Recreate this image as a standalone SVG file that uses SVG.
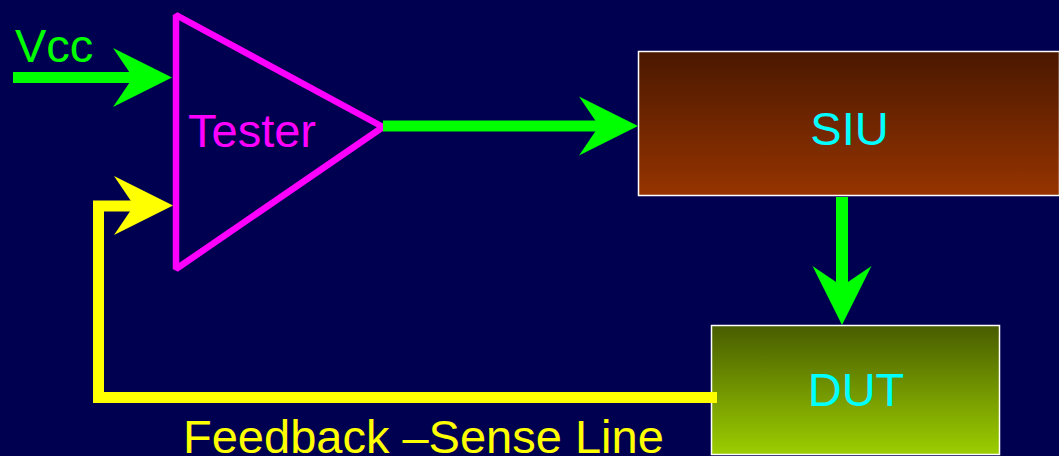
<svg xmlns="http://www.w3.org/2000/svg" xmlns:xlink="http://www.w3.org/1999/xlink" width="1059" height="456" viewBox="0 0 1059 456">
  <style>
    text { font-family: "Liberation Sans", Arial, sans-serif; font-size: 47px; }
    .box { stroke: #FFFFFF; stroke-width: 1.5; }
    .lbl { fill: #00FFFF; text-anchor: middle; }
    .g { stroke: #00FF00; fill: none; }
    .y { stroke: #FFFF00; fill: none; }
    .gh { fill: #00FF00; }
    .yh { fill: #FFFF00; }
  </style>
  <defs>
    <linearGradient id="siuGrad" x1="0" y1="0" x2="0" y2="1">
      <stop offset="0" stop-color="#4A1800"/>
      <stop offset="1" stop-color="#963400"/>
    </linearGradient>
    <linearGradient id="dutGrad" x1="0" y1="0" x2="0" y2="1">
      <stop offset="0" stop-color="#485C00"/>
      <stop offset="1" stop-color="#9CCE00"/>
    </linearGradient>
    <path id="ah" d="M0,0 L-59,-29.5 L-39,0 L-59,29.5 Z"/>
  </defs>
  <rect x="0" y="0" width="1059" height="456" fill="#000050"/>

  <g id="tester">
    <polygon points="176,15 383,127 176,269" fill="none" stroke="#FF00FF" stroke-width="6.5" stroke-linejoin="bevel"/>
    <text x="188" y="147" fill="#FF00FF">Tester</text>
  </g>

  <g id="vcc">
    <text x="15" y="62" fill="#00FF00">Vcc</text>
  </g>

  <g id="siu">
    <rect class="box" x="638.5" y="51.5" width="421" height="144" fill="url(#siuGrad)"/>
    <text class="lbl" x="849.5" y="145">SIU</text>
  </g>

  <g id="dut">
    <rect class="box" x="711.5" y="325.5" width="288" height="129" fill="url(#dutGrad)"/>
    <text class="lbl" x="856" y="406">DUT</text>
  </g>

  <g id="feedback-label">
    <text x="183" y="453" fill="#FFFF00">Feedback –Sense Line</text>
  </g>

  <g id="connectors">
    <line class="g" x1="13" y1="77.5" x2="136" y2="77.5" stroke-width="11"/>
    <use href="#ah" xlink:href="#ah" class="gh" transform="translate(172,77.5)"/>

    <line class="g" x1="383" y1="126" x2="603" y2="126" stroke-width="11"/>
    <use href="#ah" xlink:href="#ah" class="gh" transform="translate(638,126)"/>

    <line class="g" x1="842" y1="197" x2="842" y2="290" stroke-width="12"/>
    <use href="#ah" xlink:href="#ah" class="gh" transform="translate(842,325) rotate(90)"/>

    <polyline class="y" points="717,397.5 98.5,397.5 98.5,206 136,206" stroke-width="11" stroke-linejoin="miter"/>
    <use href="#ah" xlink:href="#ah" class="yh" transform="translate(173,205.5)"/>
  </g>
</svg>
